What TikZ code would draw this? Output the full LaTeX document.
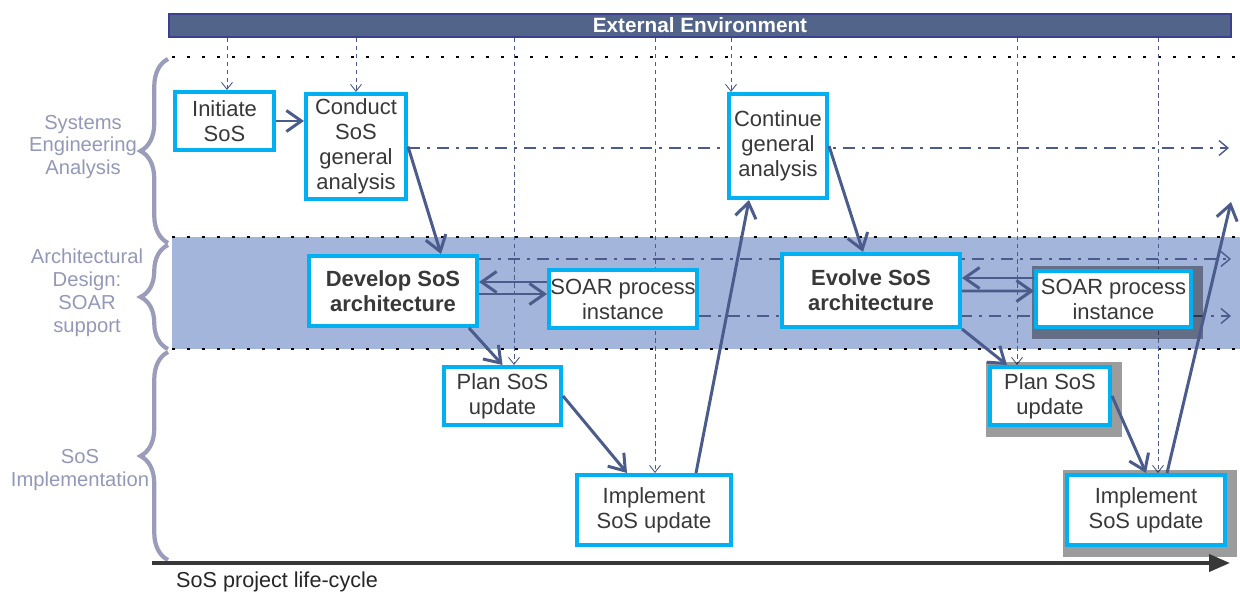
\documentclass[tikz,border=0pt]{standalone}
\usepackage{fontspec}
\setmainfont{Liberation Sans}
\usepackage{tikz}
\usetikzlibrary{arrows.meta,decorations.pathreplacing,calc}
\definecolor{cyanbox}{HTML}{00B0F0}
\definecolor{flowblue}{HTML}{4A5B8C}
\definecolor{bandblue}{HTML}{A4B5DC}
\definecolor{envfill}{HTML}{53648A}
\definecolor{envdraw}{HTML}{3C3F8E}
\definecolor{bracegray}{HTML}{9A9CBA}
\definecolor{labelgray}{HTML}{9498B8}
\definecolor{textgray}{HTML}{383838}
\pgfdeclarelayer{back}
\pgfdeclarelayer{bg}
\pgfsetlayers{back,bg,main}
\tikzset{
  box/.style={draw=cyanbox,line width=2.3pt,fill=white,text=textgray,align=center,inner sep=0pt,font=\fontsize{12.5}{14.2}\selectfont},
  boldbox/.style={box,font=\fontsize{12.5}{14.2}\selectfont\bfseries},
  flow/.style={draw=flowblue,line width=1.7pt,-{Straight Barb[length=3mm,width=4.2mm]}},
  envline/.style={draw=flowblue,line width=0.5pt,dash pattern=on 2.5pt off 2pt,-{Straight Barb[length=1.4mm,width=2.2mm]}},
  track/.style={draw=flowblue,line width=0.8pt,dash pattern=on 7pt off 4pt on 1.5pt off 4pt,-{Straight Barb[length=1.8mm,width=3mm]}},
  lanesep/.style={line width=1.7pt,dash pattern=on 1.7pt off 6.8pt},
  phasebrace/.style={draw=bracegray,line width=2.4pt,decorate,decoration={brace,amplitude=0.55cm}},
  phaselabel/.style={text=labelgray,align=center,font=\fontsize{11.5}{13}\selectfont},
  boxshadow/.style={fill=black,opacity=0.39},
  lifecycle/.style={draw=textgray,line width=2.2pt,-{Triangle[length=0.42cm,width=0.34cm]}}
}
\begin{document}
\begin{tikzpicture}[x=0.02cm,y=-0.02cm]
\useasboundingbox(0,0)rectangle(1240,595);
%external environment
\node[draw=envdraw,fill=envfill,line width=1.2pt,minimum width=21.24cm,minimum height=0.46cm,inner sep=0pt,text=white,font=\fontsize{11.8}{13}\selectfont\bfseries](env)at(700,25.5){External Environment};
%lanes
\begin{pgfonlayer}{back}
\fill[bandblue](172,237)rectangle(1240,349);
\draw[lanesep](172,57)--(1240,57);
\draw[lanesep](172,237)--(1240,237);
\draw[lanesep](172,349)--(1240,349);
\end{pgfonlayer}
%phase braces and labels
\draw[phasebrace](168,243)--(168,59);
\draw[phasebrace](168,349)--(168,245);
\draw[phasebrace](168,560)--(168,352);
\node[phaselabel](sealabel)at(83,147){Systems\\Engineering\\Analysis};
\node[phaselabel](adlabel)at(87,293){Architectural\\Design:\\SOAR\\support};
\node[phaselabel](implabel)at(80,470){SoS\\Implementation};
%activity boxes
\node[box,minimum width=1.98cm,minimum height=1.16cm](init)at(224.5,121){Initiate\\SoS};
\node[box,minimum width=2cm,minimum height=2.1cm](conduct)at(356,146.5){Conduct\\SoS\\general\\analysis};
\node[box,minimum width=1.96cm,minimum height=2.08cm](cont)at(778,146){Continue\\general\\analysis};
\node[boldbox,minimum width=3.36cm,minimum height=1.4cm](develop)at(393,291){Develop SoS\\architecture};
\node[box,minimum width=2.96cm,minimum height=1.16cm](soar1)at(623,299){SOAR process\\instance};
\node[boldbox,minimum width=3.56cm,minimum height=1.46cm](evolve)at(871,290.5){Evolve SoS\\architecture};
\node[box,minimum width=3.1cm,minimum height=1.12cm](soar2)at(1113.5,299){SOAR process\\instance};
\node[box,minimum width=2.34cm,minimum height=1.16cm](plan1)at(502.5,396){Plan SoS\\update};
\node[box,minimum width=2.4cm,minimum height=1.16cm](plan2)at(1050,396){Plan SoS\\update};
\node[box,minimum width=3.08cm,minimum height=1.4cm](impl1)at(654,510){Implement\\SoS update};
\node[box,minimum width=3.16cm,minimum height=1.4cm](impl2)at(1146,510){Implement\\SoS update};
%environment inputs, ongoing tracks, shadows
\coordinate(saend)at(1229,148);
\coordinate(adend1)at(1231,259);
\coordinate(adend2)at(1231,316);
\begin{pgfonlayer}{bg}
\foreach \nd/\dx in {init/2.5,conduct/0,plan1/11.5,impl1/1,cont/-47,plan2/-33,impl2/12}{
  \coordinate(tmp)at($(\nd.north)+(\dx,0)$);
  \draw[envline](tmp |- env.south)--(tmp);
}
\draw[track](saend -| conduct.east)--(saend);
\draw[track](adend1 -| develop.east)--(adend1);
\draw[track](adend2 -| soar1.east)--(adend2);
\foreach \nd in {soar2,plan2,impl2}
  \fill[boxshadow]($(\nd.north west)+(-2,-3)$)rectangle($(\nd.south east)+(10,10)$);
\end{pgfonlayer}
%process flow
\draw[flow](init.east)--(init.east -| conduct.west);
\draw[flow](conduct.east)--($(develop.north)+(48,0)$);
\draw[flow]($(soar1.west)+(0,-17)$)--($(develop.east)+(0,-9)$);
\draw[flow]($(develop.east)+(0,3)$)--($(soar1.west)+(0,-5)$);
\draw[flow]($(develop.south east)+(-10,0)$)--(plan1.north);
\draw[flow](plan1.east)--($(impl1.north)+(-27,0)$);
\draw[flow]($(impl1.north)+(42,0)$)--($(cont.south)+(-29,0)$);
\draw[flow](cont.east)--($(evolve.north)+(-8,0)$);
\draw[flow]($(soar2.west)+(0,-21)$)--($(evolve.east)+(0,-12.5)$);
\draw[flow]($(evolve.east)+(0,0.5)$)--($(soar2.west)+(0,-8)$);
\draw[flow](evolve.south east)--($(plan2.north)+(-43,0)$);
\draw[flow](plan2.east)--(impl2.north);
\coordinate(nextcycle)at(1231,202);
\draw[flow]($(impl2.north)+(21,0)$)--(nextcycle);
%life-cycle axis
\coordinate(lcstart)at(152,563);
\coordinate(lcend)at(1230,563);
\draw[lifecycle](lcstart)--(lcend);
\node[anchor=west,text=black!85,font=\fontsize{12.3}{14}\selectfont](lclabel)at(170,582){SoS project life-cycle};
\end{tikzpicture}
\end{document}
